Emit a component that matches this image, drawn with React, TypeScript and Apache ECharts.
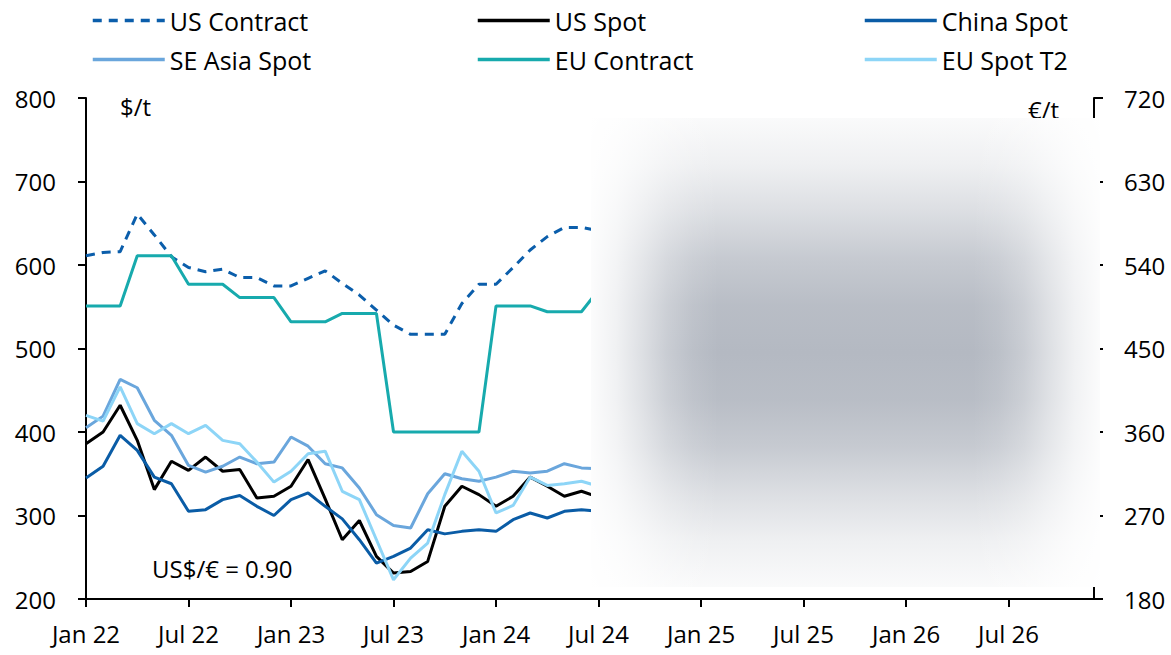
import React, { useEffect, useRef } from "react";
import * as echarts from "echarts";

const monthNames = ["Jan", "Feb", "Mar", "Apr", "May", "Jun", "Jul", "Aug", "Sep", "Oct", "Nov", "Dec"];
const yearLabels = ["22", "23", "24", "25", "26"];
const categories: string[] = [];
yearLabels.forEach((y) => monthNames.forEach((m) => categories.push(`${m} ${y}`)));

const seriesNames = ["US Contract", "US Spot", "China Spot", "SE Asia Spot", "EU Contract", "EU Spot T2"];

const usContract = [611, 615, 616, 661, 636, 610, 597, 592, 595, 585, 585, 575, 575, 584, 593, 578, 564, 546, 528, 517, 517, 517, 554, 577, 577, 597, 618, 634, 645, 645, 641];
const usSpot = [386, 400, 432, 390, 331, 365, 354, 370, 353, 355, 321, 323, 335, 367, 320, 271, 294, 251, 231, 233, 245, 311, 335, 325, 311, 323, 346, 335, 323, 329, 322];
const chinaSpot = [345, 359, 396, 378, 346, 338, 305, 307, 319, 324, 311, 300, 319, 327, 311, 296, 271, 243, 251, 261, 283, 278, 281, 283, 281, 295, 303, 297, 305, 307, 305];
const seAsiaSpot = [405, 419, 463, 453, 414, 396, 360, 352, 359, 370, 362, 364, 394, 383, 362, 357, 333, 301, 288, 285, 326, 350, 344, 341, 346, 353, 351, 353, 362, 357, 356];
const euContract = [551, 551, 551, 611, 611, 611, 577, 577, 577, 561, 561, 561, 532, 532, 532, 542, 542, 542, 400, 400, 400, 400, 400, 400, 551, 551, 551, 544, 544, 544, 570];
const euSpotT2 = [420, 413, 454, 410, 398, 410, 398, 408, 390, 386, 364, 340, 353, 374, 377, 329, 319, 271, 223, 249, 267, 325, 377, 353, 303, 312, 346, 336, 338, 341, 335];

const seriesData = [usContract, usSpot, chinaSpot, seAsiaSpot, euContract, euSpotT2];
const seriesColors = ["#0b5eab", "#000000", "#0a5ca6", "#6aa6dc", "#17aaad", "#8dd5f7"];

const FONT = "'Open Sans', 'Noto Sans', sans-serif";

export default function App() {
  const ref = useRef<HTMLDivElement>(null);
  useEffect(() => {
    if (!ref.current) return;
    const chart = echarts.init(ref.current, undefined, { renderer: "svg" });

    const legendPos = [
      [91, 8],
      [476, 8],
      [863, 8],
      [91, 47],
      [476, 47],
      [863, 47],
    ];

    const gray = "180,185,194";
    const vStops = [
      [0, 0.07], [0.1, 0.22], [0.2, 0.47], [0.3, 0.76], [0.4, 0.94], [0.5, 1],
      [0.6, 0.94], [0.7, 0.76], [0.8, 0.47], [0.9, 0.22], [1, 0.07],
    ].map(([o, a]) => ({ offset: o, color: `rgba(${gray},${a})` }));
    const hStops = [
      [0, 0.05], [0.05, 0.2], [0.1, 0.45], [0.15, 0.72], [0.2, 0.9], [0.25, 1],
      [0.75, 1], [0.8, 0.9], [0.85, 0.72], [0.9, 0.45], [0.95, 0.2], [1, 0.05],
    ].map(([o, d]) => ({ offset: o, color: `rgba(255,255,255,${1 - d})` }));

    const blur = { x: 591, y: 118, width: 509, height: 469 };

    chart.setOption({
      animation: false,
      backgroundColor: "#ffffff",
      textStyle: { fontFamily: FONT },
      grid: { left: 86, right: 77, top: 98, bottom: 56, containLabel: false },
      legend: seriesNames.map((n, i) => ({
        data: [n],
        left: legendPos[i][0],
        top: legendPos[i][1],
        padding: 0,
        itemWidth: 72,
        itemHeight: 14,
        selectedMode: false,
        itemStyle: { opacity: 0 },
        lineStyle: { width: 3.5 },
        textStyle: { fontSize: 25, fontFamily: FONT, color: "#000" },
      })),
      xAxis: {
        type: "category",
        data: categories,
        boundaryGap: false,
        axisLine: { lineStyle: { color: "#000", width: 2 } },
        axisTick: { interval: 5, length: 8, lineStyle: { color: "#000", width: 2 } },
        axisLabel: { interval: 5, fontSize: 24, color: "#000", margin: 22, fontFamily: FONT },
        splitLine: { show: false },
      },
      yAxis: [
        {
          type: "value",
          min: 200,
          max: 800,
          interval: 100,
          axisLine: { show: true, lineStyle: { color: "#000", width: 2 } },
          axisTick: { show: true, length: 8, lineStyle: { color: "#000", width: 2 } },
          axisLabel: { fontSize: 24, color: "#000", margin: 30, fontFamily: FONT },
          splitLine: { show: false },
        },
        {
          type: "value",
          position: "right",
          min: 180,
          max: 720,
          interval: 90,
          axisLine: { show: true, lineStyle: { color: "#000", width: 2 } },
          axisTick: { show: true, length: 9, lineStyle: { color: "#000", width: 2 } },
          axisLabel: { fontSize: 24, color: "#000", margin: 30, fontFamily: FONT },
          splitLine: { show: false },
        },
      ],
      series: seriesNames.map((n, i) => ({
        name: n,
        type: "line",
        data: seriesData[i],
        yAxisIndex: 0,
        symbol: "none",
        color: seriesColors[i],
        lineStyle: {
          color: seriesColors[i],
          width: 3,
          type: i === 0 ? [9, 7] : "solid",
        },
        z: 2 + i,
      })),
      graphic: [
        {
          type: "text",
          left: 120,
          top: 94,
          z: 10,
          style: { text: "$/t", fontSize: 24, fontFamily: FONT, fill: "#000" },
        },
        {
          type: "text",
          left: 1028,
          top: 97,
          z: 10,
          style: { text: "€/t", fontSize: 24, fontFamily: FONT, fill: "#000" },
        },
        {
          type: "text",
          left: 152,
          top: 556,
          z: 10,
          style: { text: "US$/€ = 0.90", fontSize: 24, fontFamily: FONT, fill: "#000" },
        },
        {
          type: "rect",
          z: 100,
          shape: blur,
          style: { fill: "#ffffff" },
        },
        {
          type: "rect",
          z: 101,
          shape: blur,
          style: { fill: new echarts.graphic.LinearGradient(0, 0, 0, 1, vStops) },
        },
        {
          type: "rect",
          z: 102,
          shape: blur,
          style: { fill: new echarts.graphic.LinearGradient(0, 0, 1, 0, hStops) },
        },
      ],
    });
    return () => chart.dispose();
  }, []);
  return (
    <div
      ref={ref}
      style={{ position: "fixed", left: 0, top: 0, width: 1171, height: 655 }}
    />
  );
}
